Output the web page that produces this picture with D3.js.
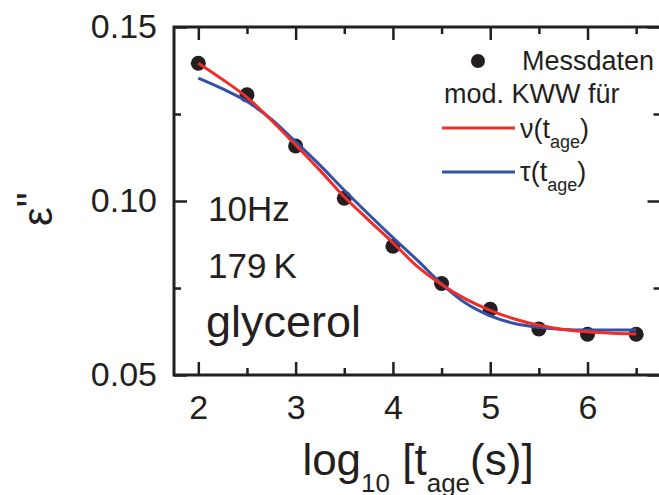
<!DOCTYPE html>
<html>
<head>
<meta charset="utf-8">
<script src="https://cdn.jsdelivr.net/npm/d3@7"></script>
<style>
  body { margin: 0; background: #fff; }
  text { font-family: "Liberation Sans", Arial, sans-serif; fill: #231f20; }
</style>
</head>
<body>
<svg id="chart"></svg>
<script>
// measured points
var ageLog = [2, 2.5, 3, 3.5, 4, 4.5, 5, 5.5, 6, 6.5]
var epsMeas = [0.1396, 0.1305, 0.1158, 0.1008, 0.0870, 0.0763, 0.0689, 0.0632, 0.0617, 0.0617]

// fit curves
var fitX = [2, 2.25, 2.5, 2.75, 3, 3.25, 3.5, 3.75, 4, 4.25, 4.5, 4.75, 5, 5.25, 5.5, 5.75, 6, 6.25, 6.5]
var fitNu = [0.1396, 0.1349, 0.1298, 0.1232, 0.1161, 0.1088, 0.1012, 0.0945, 0.0880, 0.0812, 0.0760, 0.0718, 0.0686, 0.0661, 0.0643, 0.0631, 0.0624, 0.0620, 0.0618]
var fitTau = [0.1353, 0.1322, 0.1286, 0.1235, 0.1170, 0.1103, 0.1031, 0.0962, 0.0895, 0.0830, 0.0762, 0.0706, 0.0670, 0.0648, 0.0637, 0.0631, 0.0629, 0.0629, 0.0629]

var xMajor = [2, 3, 4, 5, 6]
var xMinor = [2.5, 3.5, 4.5, 5.5, 6.5]
var yMajor = [0.05, 0.10, 0.15]
var yMinor = [0.075, 0.125]

var dimensions = {
    width: 659,
    height: 495,
    margin: {
        top: 27,
        bottom: 120,
        right: -1.5,
        left: 174
    }
}

var svg = d3.select("#chart")
    .attr("width", dimensions.width)
    .attr("height", dimensions.height)

var xScale = d3.scaleLinear()
    .domain([1.75, 6.75])
    .range([dimensions.margin.left, dimensions.width - dimensions.margin.right])

var yScale = d3.scaleLinear()
    .domain([0.05, 0.15])
    .range([dimensions.height - dimensions.margin.bottom, dimensions.margin.top])

var x0 = xScale.range()[0], x1 = xScale.range()[1]
var y0 = yScale.range()[0], y1 = yScale.range()[1]

function styleAxis(g) {
    g.select(".domain").remove()
    g.selectAll(".tick line").attr("stroke", "#231f20").attr("stroke-width", 2.5)
    g.selectAll(".tick text")
        .style("font-family", "'Liberation Sans', Arial, sans-serif")
        .style("font-size", "34px")
        .attr("fill", "#231f20")
}

// bottom axis
svg.append("g")
    .attr("transform", "translate(0," + y0 + ")")
    .call(d3.axisBottom(xScale).tickValues(xMajor).tickSize(-13).tickPadding(20).tickFormat(d3.format("d")))
    .call(styleAxis)
svg.append("g")
    .attr("transform", "translate(0," + y0 + ")")
    .call(d3.axisBottom(xScale).tickValues(xMinor).tickSize(-7).tickFormat(""))
    .call(styleAxis)

// top axis
svg.append("g")
    .attr("transform", "translate(0," + y1 + ")")
    .call(d3.axisTop(xScale).tickValues(xMajor).tickSize(-13).tickFormat(""))
    .call(styleAxis)
svg.append("g")
    .attr("transform", "translate(0," + y1 + ")")
    .call(d3.axisTop(xScale).tickValues(xMinor).tickSize(-7).tickFormat(""))
    .call(styleAxis)

// left axis
svg.append("g")
    .attr("transform", "translate(" + x0 + ",0)")
    .call(d3.axisLeft(yScale).tickValues(yMajor).tickSize(-13).tickPadding(17).tickFormat(d3.format(".2f")))
    .call(styleAxis)
svg.append("g")
    .attr("transform", "translate(" + x0 + ",0)")
    .call(d3.axisLeft(yScale).tickValues(yMinor).tickSize(-7).tickFormat(""))
    .call(styleAxis)

// right axis
svg.append("g")
    .attr("transform", "translate(" + x1 + ",0)")
    .call(d3.axisRight(yScale).tickValues(yMajor).tickSize(-13).tickFormat(""))
    .call(styleAxis)
svg.append("g")
    .attr("transform", "translate(" + x1 + ",0)")
    .call(d3.axisRight(yScale).tickValues(yMinor).tickSize(-7).tickFormat(""))
    .call(styleAxis)

// frame
svg.append("rect")
    .attr("x", x0)
    .attr("y", y1)
    .attr("width", x1 - x0)
    .attr("height", y0 - y1)
    .attr("fill", "none")
    .attr("stroke", "#231f20")
    .attr("stroke-width", 3)

// fit lines
var line = d3.line()
    .x(d => xScale(d[0]))
    .y(d => yScale(d[1]))
    .curve(d3.curveMonotoneX)

svg.append("path")
    .datum(d3.zip(fitX, fitTau))
    .attr("d", line)
    .attr("fill", "none")
    .attr("stroke", "#3352a6")
    .attr("stroke-width", 3)

svg.append("path")
    .datum(d3.zip(fitX, fitNu))
    .attr("d", line)
    .attr("fill", "none")
    .attr("stroke", "#ee2e2a")
    .attr("stroke-width", 3)

// data points (drawn under lines in the picture)
svg.insert("g", "path")
    .selectAll("circle")
    .data(d3.zip(ageLog, epsMeas))
    .enter()
    .append("circle")
    .attr("cx", d => xScale(d[0]))
    .attr("cy", d => yScale(d[1]))
    .attr("r", 7.5)
    .attr("fill", "#231f20")

// annotations
svg.append("text").attr("x", 208).attr("y", 221).style("font-size", "35px").text("10Hz")
svg.append("text").attr("x", 208).attr("y", 278).style("font-size", "35px").text("179\u2009K")
svg.append("text").attr("x", 206).attr("y", 337).style("font-size", "45px").text("glycerol")

// legend
svg.append("circle").attr("cx", 478).attr("cy", 61).attr("r", 7).attr("fill", "#231f20")
svg.append("text").attr("x", 522).attr("y", 70).style("font-size", "27px").text("Messdaten")
svg.append("text").attr("x", 444).attr("y", 103).style("font-size", "27px").text("mod. KWW für")

svg.append("line").attr("x1", 442).attr("x2", 515).attr("y1", 128).attr("y2", 128)
    .attr("stroke", "#ee2e2a").attr("stroke-width", 3)
var l1 = svg.append("text").attr("x", 520).attr("y", 138).style("font-size", "27px")
l1.append("tspan").text("\u03bd(t")
l1.append("tspan").attr("dy", 10).style("font-size", "18px").text("age")
l1.append("tspan").attr("dy", -10).text(")")

svg.append("line").attr("x1", 442).attr("x2", 515).attr("y1", 172).attr("y2", 172)
    .attr("stroke", "#3352a6").attr("stroke-width", 3)
var l2 = svg.append("text").attr("x", 520).attr("y", 181).style("font-size", "27px")
l2.append("tspan").text("\u03c4(t")
l2.append("tspan").attr("dy", 10).style("font-size", "18px").text("age")
l2.append("tspan").attr("dy", -10).text(")")

// axis titles
var xt = svg.append("text")
    .attr("x", 418)
    .attr("y", 475)
    .attr("text-anchor", "middle")
    .style("font-size", "44px")
xt.append("tspan").text("log")
xt.append("tspan").attr("dy", 17).style("font-size", "26px").text("10")
xt.append("tspan").attr("dy", -17).text(" [t")
xt.append("tspan").attr("dy", 17).style("font-size", "26px").text("age")
xt.append("tspan").attr("dy", -17).text("(s)]")

var yt = svg.append("text")
    .attr("transform", "translate(52,226) rotate(-90)")
    .style("font-size", "42px")
yt.append("tspan").text("\u03b5")
yt.append("tspan").attr("dy", -6).text("\"")
</script>
</body>
</html>
